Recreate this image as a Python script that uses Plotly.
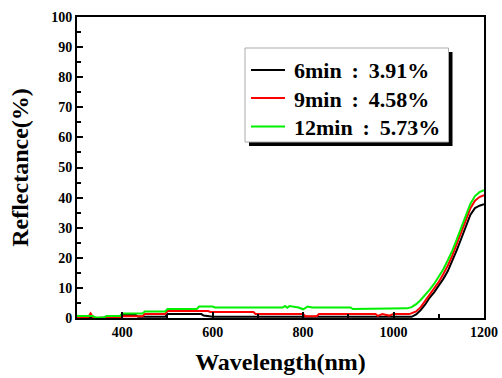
import plotly.graph_objects as go

# ---- data ----
wl_6 = [300, 340, 345, 395, 400, 430, 435, 495, 500, 575, 580, 600, 1040, 1050, 1060, 1070,
        1080, 1090, 1100, 1110, 1120, 1130, 1140, 1150, 1160, 1170, 1180, 1190, 1200]
r_6 = [0.2, 0.2, 0.0, 0.3, 1.0, 1.0, 0.4, 0.4, 1.3, 1.3, 0.8, 0.4, 0.4, 1.2, 2.6, 4.5,
       6.8, 8.6, 10.6, 13.0, 15.6, 19.0, 22.6, 26.5, 30.4, 34.3, 36.5, 37.3, 37.8]

wl_9 = [300, 325, 330, 335, 345, 395, 400, 445, 450, 495, 500, 590, 595, 690, 695, 800,
        805, 830, 835, 960, 965, 975, 990, 1000, 1035, 1040, 1050, 1060, 1070, 1080, 1090,
        1100, 1110, 1120, 1130, 1140, 1150, 1160, 1170, 1180, 1190, 1200]
r_9 = [0.3, 0.3, 1.5, 0.3, 0.0, 0.2, 0.6, 0.6, 1.3, 1.3, 2.3, 2.3, 2.0, 2.0, 1.3, 1.3,
       0.6, 0.6, 1.3, 1.3, 0.7, 1.3, 0.8, 1.3, 1.3, 1.6, 2.2, 3.6, 5.6, 7.8, 9.8,
       12.0, 14.6, 17.4, 20.8, 24.5, 28.5, 32.5, 36.5, 39.0, 40.2, 40.8]

wl_12 = [300, 335, 340, 360, 365, 395, 400, 445, 450, 495, 500, 565, 570, 600, 605, 755,
         760, 765, 770, 790, 800, 810, 820, 905, 910, 1025, 1030, 1040, 1050, 1060, 1070,
         1080, 1090, 1100, 1110, 1120, 1130, 1140, 1150, 1160, 1170, 1180, 1190, 1200]
r_12 = [0.7, 0.7, 0.2, 0.2, 0.7, 0.7, 1.5, 1.5, 2.2, 2.2, 3.0, 3.0, 3.8, 3.8, 3.5, 3.5,
        4.0, 3.4, 4.0, 3.5, 2.9, 3.8, 3.5, 3.5, 3.0, 3.0, 3.2, 3.6, 4.6, 6.0, 7.6,
        9.4, 11.4, 13.6, 16.2, 19.2, 22.4, 26.2, 30.2, 34.2, 38.0, 40.5, 41.8, 42.5]

series_names = ["6min : 3.91%", "9min : 4.58%", "12min : 5.73%"]
series_colors = ["#000000", "#ff0000", "#00f000"]

x_ticks = [400, 600, 800, 1000, 1200]
y_ticks = [0, 10, 20, 30, 40, 50, 60, 70, 80, 90, 100]

FONT = "'Times New Roman', 'Liberation Serif', serif"

fig = go.Figure()
for wl, r, name, col in zip([wl_6, wl_9, wl_12], [r_6, r_9, r_12], series_names, series_colors):
    fig.add_trace(go.Scatter(x=wl, y=r, mode="lines", name=name, showlegend=False,
                             line=dict(color=col, width=2)))

L, R, T, B = 77, 18, 17, 60
W, H = 502, 378
pw, ph = W - L - R, H - T - B

def px_x(p):
    return (p - L) / pw

def px_y(p):
    return (H - B - p) / ph

# ---- legend box (drawn manually to match the reference layout) ----
fig.add_shape(type="rect", xref="paper", yref="paper",
              x0=px_x(249), x1=px_x(452.5), y0=px_y(146), y1=px_y(52),
              fillcolor="black", line=dict(width=0), layer="above")
fig.add_shape(type="rect", xref="paper", yref="paper",
              x0=px_x(245), x1=px_x(448.5), y0=px_y(142), y1=px_y(48),
              fillcolor="white", line=dict(color="#aaaaaa", width=1), layer="above")
row_y = [70, 98, 126.5]
for name, col, yy in zip(series_names, series_colors, row_y):
    fig.add_shape(type="line", xref="paper", yref="paper",
                  x0=px_x(251), x1=px_x(285), y0=px_y(yy), y1=px_y(yy),
                  line=dict(color=col, width=2), layer="above")
    fig.add_annotation(xref="paper", yref="paper", x=px_x(292), y=px_y(yy + 1),
                       xanchor="left", yanchor="middle", showarrow=False,
                       text=name.replace(" : ", "\u00a0\u2009:\u00a0\u2009"),
                       font=dict(family=FONT, size=22, color="black", weight="bold"))

axis_common = dict(showline=True, linewidth=2, linecolor="black", mirror=True,
                   ticks="inside", ticklen=6, tickwidth=2, tickcolor="black",
                   showgrid=False, zeroline=False, automargin=False,
                   tickfont=dict(family=FONT, size=14, color="black", weight="bold"))

fig.update_xaxes(range=[300, 1200], tickvals=x_ticks,
                 ticktext=[str(v) for v in x_ticks],
                 minor=dict(ticks="inside", ticklen=4, tickwidth=2, tickcolor="black", dtick=100, tick0=300),
                 title=dict(text="Wavelength(nm)", standoff=14,
                            font=dict(family=FONT, size=24, color="black", weight="bold")),
                 **axis_common)
fig.update_yaxes(range=[0, 100], tickvals=y_ticks,
                 ticktext=[str(v) for v in y_ticks],
                 minor=dict(ticks="inside", ticklen=4, tickwidth=2, tickcolor="black", dtick=5, tick0=0),
                 title=dict(text="Reflectance(%)", standoff=16,
                            font=dict(family=FONT, size=24, color="black", weight="bold")),
                 **axis_common)

fig.update_layout(
    width=W, height=H,
    margin=dict(l=L, r=R, t=T, b=B, autoexpand=False),
    paper_bgcolor="white", plot_bgcolor="white",
    showlegend=False,
)

fig.write_html("out.html")
